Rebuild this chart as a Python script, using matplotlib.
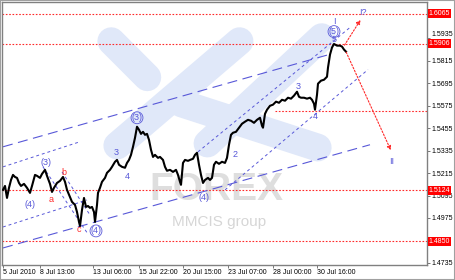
import numpy as np
import matplotlib.pyplot as plt
from matplotlib.patches import Rectangle
from matplotlib.transforms import blended_transform_factory

############## Dados (barra, preço) ##############

bar = np.array([
  0, 2, 4, 6, 8, 10, 12, 14, 16, 18,
  21, 24, 27, 29, 32, 34, 37, 39, 42, 44,
  47, 49, 51, 54, 57, 60, 62, 64, 67, 69,
  72, 74, 76, 77, 79, 81, 83, 85, 87, 89,
  91, 92, 94, 95, 97, 99, 102, 104, 107, 109,
  112, 114, 116, 119, 122, 124, 126, 128, 130, 132,
  134, 136, 138, 140, 142, 144, 146, 148, 150, 152,
  155, 157, 160, 162, 164, 167, 170, 173, 175, 177,
  178, 180, 182, 185, 187, 190, 192, 194, 196, 198,
  200, 202, 205, 207, 209, 211, 213, 216, 219, 222,
  224, 226, 228, 230, 233, 236, 239, 242, 245, 248,
  251, 254, 257, 259, 260, 262, 264, 267, 270, 273,
  276, 279, 282, 285, 288, 291, 294, 296, 298, 301,
  304, 307, 309, 311, 312, 314, 315, 318, 321, 324,
  325, 327, 329, 331, 334, 337, 339, 341, 343])

price = np.array([
  1.5125, 1.5146, 1.5082, 1.5136, 1.5178, 1.5205, 1.5194, 1.5189, 1.5162, 1.5146,
  1.5157, 1.5136, 1.5109, 1.5146, 1.5205, 1.5200, 1.5189, 1.5210, 1.5232, 1.5200,
  1.5157, 1.5114, 1.5136, 1.5162, 1.5173, 1.5194, 1.5168, 1.5125, 1.5087, 1.5061,
  1.5045, 1.5007, 1.4954, 1.4932, 1.5018, 1.5082, 1.5034, 1.5039, 1.5029, 1.5034,
  1.5007, 1.4954, 1.5045, 1.5109, 1.5136, 1.5168, 1.5189, 1.5216, 1.5232, 1.5248,
  1.5275, 1.5285, 1.5259, 1.5248, 1.5243, 1.5269, 1.5285, 1.5312, 1.5355, 1.5403,
  1.5462, 1.5446, 1.5424, 1.5435, 1.5419, 1.5424, 1.5392, 1.5339, 1.5301, 1.5312,
  1.5296, 1.5301, 1.5285, 1.5248, 1.5227, 1.5232, 1.5221, 1.5232, 1.5205, 1.5168,
  1.5152, 1.5269, 1.5285, 1.5280, 1.5285, 1.5291, 1.5312, 1.5323, 1.5259, 1.5205,
  1.5162, 1.5178, 1.5189, 1.5178, 1.5189, 1.5259, 1.5275, 1.5264, 1.5275, 1.5269,
  1.5296, 1.5366, 1.5419, 1.5430, 1.5435, 1.5457, 1.5478, 1.5489, 1.5499, 1.5494,
  1.5483, 1.5499, 1.5510, 1.5467, 1.5457, 1.5531, 1.5553, 1.5574, 1.5580, 1.5596,
  1.5590, 1.5606, 1.5601, 1.5617, 1.5612, 1.5628, 1.5649, 1.5622, 1.5617, 1.5617,
  1.5612, 1.5617, 1.5606, 1.5585, 1.5553, 1.5633, 1.5692, 1.5708, 1.5713, 1.5729,
  1.5778, 1.5847, 1.5885, 1.5904, 1.5895, 1.5895, 1.5890, 1.5874, 1.5863])

# Eixo do tempo
tickBars = [0, 37, 90, 136, 180, 225, 270, 314]
tickLabels = ["5 Jul 2010", "8 Jul 13:00", "13 Jul 06:00", "15 Jul 22:00",
              "20 Jul 15:00", "23 Jul 07:00", "28 Jul 00:00", "30 Jul 16:00"]

# Eixo de preços (1.6055 fica escondido atrás do rótulo vermelho)
priceTicks = [1.6055, 1.5935, 1.5815, 1.5695, 1.5575, 1.5455, 1.5335,
              1.5215, 1.5095, 1.4975, 1.4735]

# Níveis horizontais (vermelhos)
levels = [1.6065, 1.5906, 1.5124, 1.4850]
shortLevel = (272, 1.5548)

# Canais (x0, p0, x1, p1)
longDash = [(0, 1.5355, 329, 1.5852), (0, 1.4815, 367, 1.5366)]
shortDash = [(0, 1.5248, 77, 1.5382), (0, 1.4927, 84, 1.5071),
             (195, 1.5328, 347, 1.5992), (222, 1.5125, 365, 1.5767),
             (40, 1.5248, 85, 1.4889), (59, 1.5221, 87, 1.4991)]

# Projeções (setas)
arrows = [(340, 1.5885, 359, 1.6045), (342, 1.5874, 389, 1.5323)]

# Marcações das ondas: (texto, barra, preço, cor, círculo)
waveLabels = [
  ("(4)", 27, 1.5045, 'b', False), ("(3)", 43, 1.5269, 'b', False),
  ("a", 48, 1.5071, 'r', False), ("b", 61, 1.5216, 'r', False),
  ("c", 76, 1.4916, 'r', False), ("(4)", 93, 1.4906, 'b', True),
  ("3", 113, 1.5323, 'b', False), ("4", 124, 1.5194, 'b', False),
  ("(3)", 134, 1.5510, 'b', True), ("(4)", 201, 1.5087, 'b', False),
  ("2", 232, 1.5312, 'b', False), ("3", 295, 1.5676, 'b', False),
  ("4", 312, 1.5515, 'b', False), ("5", 331, 1.5927, 'b', False),
  ("(5)", 331, 1.5970, 'b', True), ("I", 331, 1.6024, 'b', False),
  ("I?", 360, 1.6072, 'b', False), ("II", 389, 1.5275, 'b', False)]

BLUE = '#5858d8'
RED = '#ff2a2a'

########################## Figura ##########################

plt.rcParams['font.family'] = ['Liberation Sans', 'DejaVu Sans']
fig = plt.figure(figsize=(4.55, 2.8), dpi=100)
ax = fig.add_axes([2/455, 15/280, 425/455, 263/280])
ax.set_xlim(-1, 424)
ax.set_ylim(1.4724, 1.6128)

# Marca d'água (logo + texto)
logo = [((112, 42), (148, 78)), ((240, 42), (118, 146)),
        ((322, 38), (208, 144)), ((182, 104), (318, 148))]
def frac(x, y):
  return (x - 3) / 424, (265 - y) / 262
for (a, b) in logo:
  (x0, y0), (x1, y1) = frac(*a), frac(*b)
  ax.plot([x0, x1], [y0, y1], transform=ax.transAxes, color='#e0e8f9',
          lw=20, solid_capstyle='round', zorder=0)
ax.text(*frac(217, 190), "FOREX", transform=ax.transAxes, ha='center',
        va='center', fontsize=28, fontweight='bold', color='#dedede', zorder=0)
ax.text(*frac(220, 222), "MMCIS group", transform=ax.transAxes, ha='center',
        va='center', fontsize=11, color='#d6d6d6', zorder=0)

# Níveis
for p in levels:
  ax.axhline(p, color=RED, lw=0.8, ls=(0, (1.5, 1.5)), zorder=1)
ax.plot([shortLevel[0], 424], [shortLevel[1]] * 2, color=RED, lw=0.8,
        ls=(0, (1.5, 1.5)), zorder=1)

# Canais
for (x0, p0, x1, p1) in longDash:
  ax.plot([x0, x1], [p0, p1], color=BLUE, lw=0.8, ls=(0, (9, 5)), zorder=2)
for (x0, p0, x1, p1) in shortDash:
  ax.plot([x0, x1], [p0, p1], color=BLUE, lw=0.7, ls=(0, (3, 3)), zorder=2)

# Preço
ax.plot(bar, price, color='black', lw=1.5, zorder=3)

# Projeções
for (x0, p0, x1, p1) in arrows:
  ax.annotate("", xy=(x1, p1), xytext=(x0, p0),
              arrowprops=dict(arrowstyle='-|>', color=RED, lw=0.8,
                              ls=(0, (1.5, 1.5)), mutation_scale=6), zorder=4)

# Ondas
for (txt, x, p, c, circ) in waveLabels:
  kw = {}
  if circ:
    kw['bbox'] = dict(boxstyle='circle,pad=0.05', fc='none', ec=BLUE, lw=0.6)
  ax.text(x, p, txt, color=BLUE if c == 'b' else RED, fontsize=6.5,
          ha='center', va='center', zorder=5, **kw)

# Eixos
ax.yaxis.tick_right()
ax.set_yticks(priceTicks)
ylabels = ["%.4f" % t for t in priceTicks]
ylabels[0] = ""
ax.set_yticklabels(ylabels, fontsize=5)
# o rótulo 1.5935 fica um pouco acima, como no MT4
for lab in ax.get_yticklabels():
  if lab.get_text() == "1.5935":
    lab.set_va('bottom')
ax.set_xticks(tickBars)
ax.set_xticklabels(tickLabels, fontsize=5, ha='left')
ax.tick_params(axis='both', length=2, width=0.6, color='#606060', pad=1)
for s in ax.spines.values():
  s.set_color('#808080')
  s.set_linewidth(1.0)

# Rótulos vermelhos dos níveis
trans = blended_transform_factory(ax.transAxes, ax.transData)
for p in levels:
  ax.text(1.004, p, "%.4f" % p, transform=trans, fontsize=5, color='white',
          ha='left', va='center', zorder=6, clip_on=False,
          bbox=dict(boxstyle='square,pad=0.15', fc='#ff0000', ec='none'))

fig.patches.append(Rectangle((0, 0), 1, 1, transform=fig.transFigure,
                             fill=False, ec='#a0a0a0', lw=1.5))

fig.savefig("out.png", dpi=100)
